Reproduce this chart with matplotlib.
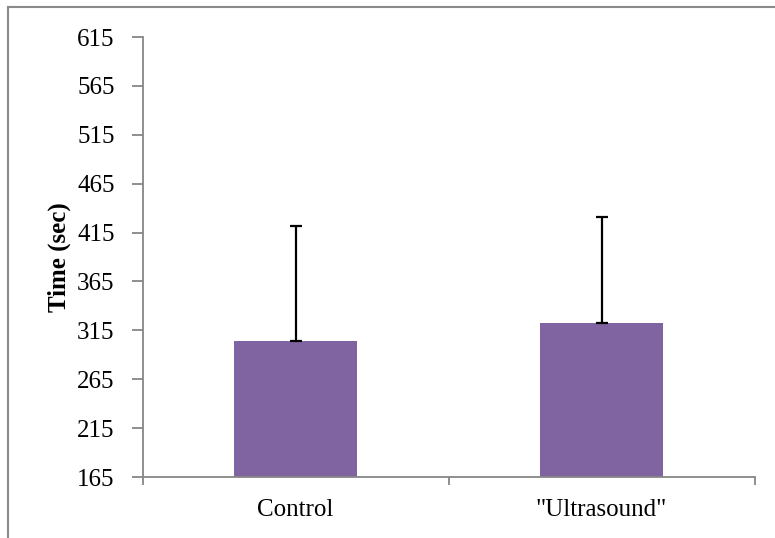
import matplotlib
matplotlib.use("Agg")
import matplotlib.pyplot as plt
from matplotlib.lines import Line2D

categories = ["Control", "\"Ultrasound\""]
means = [304, 323]
errors_upper = [118, 108]
yticks = [165, 215, 265, 315, 365, 415, 465, 515, 565, 615]

plt.rcParams['font.family'] = ['Liberation Serif', 'DejaVu Serif']

fig = plt.figure(figsize=(7.75, 5.38), dpi=100)
ax = fig.add_axes([142.5 / 775, 61 / 538, 612 / 775, 440 / 538])

x = list(range(len(categories)))
ax.bar(x, means, width=0.4, color="#8064A2", zorder=2)
ax.errorbar(x, means, yerr=[[0] * len(means), errors_upper], fmt="none",
            ecolor="black", elinewidth=1.6, capsize=4.5, capthick=1.6, zorder=3)

ax.set_xlim(-0.5, len(categories) - 0.5)
ax.set_ylim(165, 615)
ax.set_yticks(yticks)
ax.set_yticklabels([str(t) for t in yticks])

ax.set_xticks([i - 0.5 for i in range(len(categories) + 1)])
ax.set_xticklabels([""] * (len(categories) + 1))
ax.set_xticks(x, minor=True)
ax.set_xticklabels(categories, minor=True)

spine_color = "#868686"
for s in ["top", "right"]:
    ax.spines[s].set_visible(False)
for s in ["left", "bottom"]:
    ax.spines[s].set_color(spine_color)
    ax.spines[s].set_linewidth(1.3)

ax.tick_params(axis="y", which="major", direction="out", length=8, width=1.3,
               color=spine_color, labelsize=18, pad=12, labelcolor="black")
ax.tick_params(axis="x", which="major", direction="out", length=6, width=1.3,
               color=spine_color)
ax.tick_params(axis="x", which="minor", length=0, labelsize=18, pad=16,
               labelcolor="black")

fig.text(59.5 / 775, 1 - 257.5 / 538, "Time (sec)", rotation=90, fontsize=18,
         fontweight="bold", ha="center", va="center")

# figure border (left and top)
fig.add_artist(Line2D([8 / 775, 8 / 775], [0, 1 - 7 / 538], transform=fig.transFigure,
                      color="#8a8a8a", linewidth=1.5))
fig.add_artist(Line2D([8 / 775, 1], [1 - 7 / 538, 1 - 7 / 538], transform=fig.transFigure,
                      color="#8a8a8a", linewidth=1.5))

fig.savefig("out.png", dpi=100)
